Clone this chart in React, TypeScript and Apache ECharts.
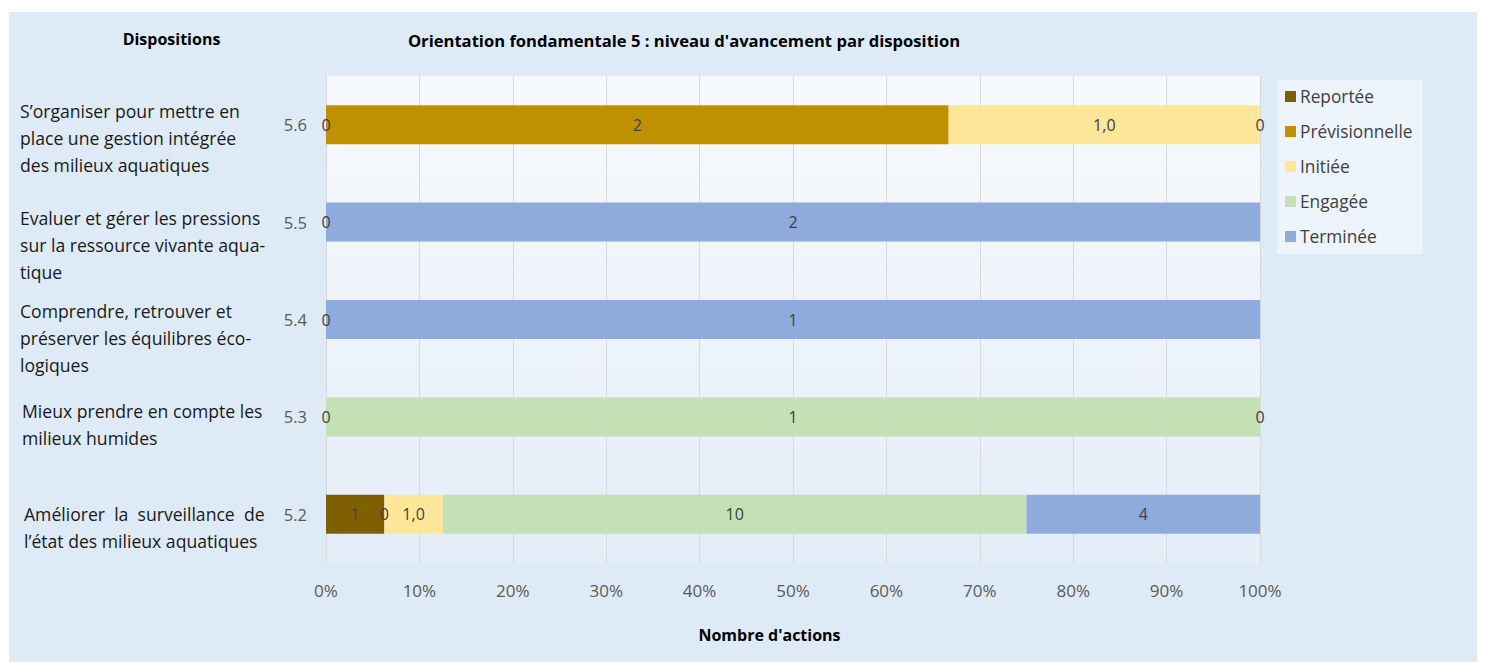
import React, { useEffect, useRef } from "react";
import * as echarts from "echarts";

const categories = ["5.2", "5.3", "5.4", "5.5", "5.6"];
const descriptions = [
  "Améliorer  la  surveillance  de\nl’état des milieux aquatiques",
  "Mieux prendre en compte les\nmilieux humides",
  "Comprendre, retrouver et\npréserver les équilibres éco-\nlogiques",
  "Evaluer et gérer les pressions\nsur la ressource vivante aqua-\ntique",
  "S’organiser pour mettre en\nplace une gestion intégrée\ndes milieux aquatiques",
];
const seriesNames = ["Reportée", "Prévisionnelle", "Initiée", "Engagée", "Terminée"];
const reportee = [1, 0, 0, 0, 0];
const previsionnelle = [0, null, null, null, 2];
const initiee = [1, null, null, null, 1];
const engagee = [10, 1, null, null, null];
const terminee = [4, 0, 1, 2, 0];
const xTicks = [0, 10, 20, 30, 40, 50, 60, 70, 80, 90, 100];

const colors = ["#7f6000", "#bf9000", "#ffe699", "#c5e0b4", "#8faadc"];
const FONT = "'Open Sans'";
// layout (page coordinates)
const OX = 9;
const OY = 12;
const descLayout = [
  { x: 24, y: 514 },
  { x: 22, y: 411 },
  { x: 20, y: 311 },
  { x: 20, y: 218 },
  { x: 20, y: 111 },
];

export default function App() {
  const ref = useRef<HTMLDivElement>(null);
  useEffect(() => {
    if (!ref.current) return;
    const chart = echarts.init(ref.current, undefined, { renderer: "svg" });
    const raw = [reportee, previsionnelle, initiee, engagee, terminee];
    const totals = categories.map((_, i) =>
      raw.reduce((s, arr) => s + (arr[i] == null ? 0 : (arr[i] as number)), 0)
    );
    const series = raw.map((arr, si) => ({
      name: seriesNames[si],
      type: "bar",
      stack: "total",
      barWidth: 39,
      itemStyle: { color: colors[si] },
      label: {
        show: true,
        position: "inside",
        color: "#404040",
        fontFamily: FONT,
        fontSize: 16,
        formatter: (p: any) =>
          p.data && p.data.raw != null
            ? si === 2
              ? p.data.raw.toFixed(1).replace(".", ",")
              : String(p.data.raw)
            : "",
      },
      data: arr.map((v, i) =>
        v == null ? { value: "-" } : { value: (v / totals[i]) * 100, raw: v }
      ),
    }));
    const texts: any[] = [
      { x: 171.5, y: 39, text: "Dispositions", size: 16 },
      { x: 684, y: 40, text: "Orientation fondamentale 5 : niveau d'avancement par disposition", size: 16.6 },
      { x: 769.5, y: 635, text: "Nombre d'actions", size: 16 },
    ];
    const g: any[] = texts.map((t) => ({
      type: "text",
      x: t.x - OX,
      y: t.y - OY,
      style: {
        text: t.text,
        fontFamily: FONT,
        fontWeight: "bold",
        fontSize: t.size,
        fill: "#000",
        align: "center",
        verticalAlign: "middle",
      },
    }));
    descriptions.forEach((d, i) => {
      g.push({
        type: "text",
        x: descLayout[i].x - OX,
        y: descLayout[i].y - 13.5 - OY,
        style: {
          text: d,
          fontFamily: FONT,
          fontSize: 17.6,
          lineHeight: 27,
          fill: "#1a1a1a",
          align: "left",
          verticalAlign: "top",
        },
      });
    });
    chart.setOption({
      animation: false,
      backgroundColor: "#deebf7",
      textStyle: { fontFamily: FONT },
      grid: {
        left: 326 - OX,
        right: 1468 - (1260 - OX),
        top: 76 - OY,
        bottom: 650 - (563 - OY),
        show: true,
        borderWidth: 0,
        backgroundColor: new echarts.graphic.LinearGradient(0, 0, 0, 1, [
          { offset: 0, color: "#f7fafd" },
          { offset: 1, color: "#e4edf8" },
        ]),
      },
      legend: {
        orient: "vertical",
        left: 1277 - OX,
        top: 80 - OY,
        data: seriesNames,
        itemWidth: 11,
        itemHeight: 11,
        itemGap: 18,
        icon: "rect",
        padding: [8, 10, 9, 8],
        backgroundColor: "rgba(255,255,255,0.45)",
        textStyle: { fontFamily: FONT, fontSize: 17.3, color: "#404040", padding: [0, 0, 0, -1] },
      },
      xAxis: {
        type: "value",
        min: 0,
        max: 100,
        interval: 10,
        axisLine: { show: false },
        axisTick: { show: false },
        splitLine: { lineStyle: { color: "#d9d9d9" } },
        axisLabel: {
          formatter: (v: number) => (xTicks.includes(v) ? `${v}%` : ""),
          color: "#595959",
          fontFamily: FONT,
          fontSize: 17,
          margin: 19,
        },
      },
      yAxis: {
        type: "category",
        data: categories,
        axisLine: { show: false },
        axisTick: { show: false },
        axisLabel: { color: "#595959", fontFamily: FONT, fontSize: 16.5, margin: 19 },
      },
      graphic: g,
      series,
    });
    return () => chart.dispose();
  }, []);
  return (
    <div
      ref={ref}
      style={{ position: "absolute", left: OX, top: OY, width: 1468, height: 650 }}
    />
  );
}
